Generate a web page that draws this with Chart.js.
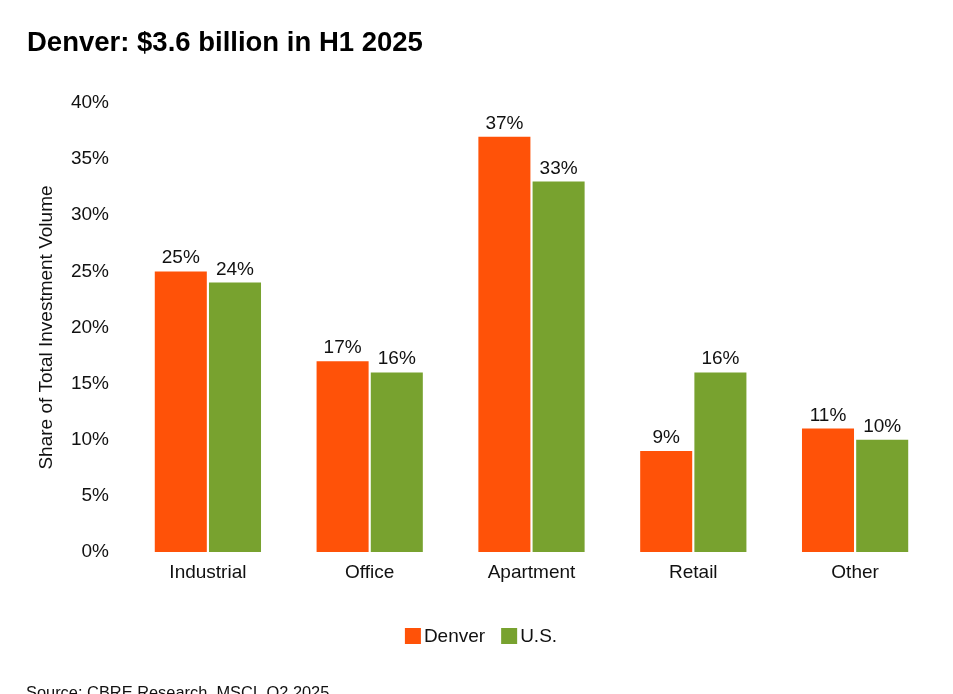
<!DOCTYPE html>
<html>
<head>
<meta charset="utf-8">
<script src="https://cdn.jsdelivr.net/npm/chart.js@4/dist/chart.umd.min.js"></script>
<style>
  html, body { margin: 0; padding: 0; background: #ffffff; }
  #wrap { position: relative; width: 953px; height: 694px; overflow: hidden; }
</style>
</head>
<body>
<div id="wrap"><canvas id="c" width="953" height="694"></canvas></div>
<script>
const categories = ["Industrial", "Office", "Apartment", "Retail", "Other"];
const denverValues = [25, 17, 37, 9, 11];
const usValues = [24, 16, 33, 16, 10];
const seriesNames = ["Denver", "U.S."];
const yTicks = [0, 5, 10, 15, 20, 25, 30, 35, 40];
const titleText = "Denver: $3.6 billion in H1 2025";
const yAxisTitle = "Share of Total Investment Volume";
const sourceText = "Source: CBRE Research, MSCI, Q2 2025";

const ORANGE = "#FF5208";
const GREEN = "#78A22F";
const FONT = "'Liberation Sans', Arial, Helvetica, sans-serif";
const TEXT = "#111111";
const FS = 19;

const extras = {
  id: "extras",
  afterDatasetsDraw(chart) {
    const ctx = chart.ctx;
    ctx.save();
    // data labels
    ctx.font = FS + "px " + FONT;
    ctx.fillStyle = TEXT;
    ctx.textAlign = "center";
    ctx.textBaseline = "alphabetic";
    chart.data.datasets.forEach((ds, di) => {
      const meta = chart.getDatasetMeta(di);
      meta.data.forEach((bar, i) => {
        ctx.fillText(ds.data[i] + "%", bar.x, bar.y - 8);
      });
    });
    // title
    ctx.font = "bold 27.5px " + FONT;
    ctx.textAlign = "left";
    ctx.fillStyle = "#000";
    ctx.fillText(titleText, 27, 51);
    // legend
    ctx.font = FS + "px " + FONT;
    const box = 16, gap = 3, spacing = 16;
    const items = chart.data.datasets.map(ds => ({ label: ds.label, color: ds.backgroundColor, w: ctx.measureText(ds.label).width }));
    let total = 0;
    items.forEach((it, k) => { total += box + gap + it.w + (k < items.length - 1 ? spacing : 0); });
    let x = 481 - total / 2;
    const ly = 636;
    items.forEach(it => {
      ctx.fillStyle = it.color;
      ctx.fillRect(x, ly - box / 2, box, box);
      ctx.fillStyle = TEXT;
      ctx.textBaseline = "middle";
      ctx.fillText(it.label, x + box + gap, ly + 1);
      x += box + gap + it.w + spacing;
    });
    // source
    ctx.font = "16.4px " + FONT;
    ctx.textBaseline = "alphabetic";
    ctx.fillStyle = TEXT;
    ctx.fillText(sourceText, 26, 698);
    ctx.restore();
  }
};

new Chart(document.getElementById("c"), {
  type: "bar",
  data: {
    labels: categories,
    datasets: [
      { label: seriesNames[0], data: denverValues, backgroundColor: ORANGE, barPercentage: 0.96, categoryPercentage: 0.67 },
      { label: seriesNames[1], data: usValues, backgroundColor: GREEN, barPercentage: 0.96, categoryPercentage: 0.67 }
    ]
  },
  options: {
    responsive: false,
    animation: false,
    devicePixelRatio: 1,
    layout: { padding: { top: 103, right: 17, left: 0, bottom: 0 } },
    plugins: {
      legend: { display: false },
      title: { display: false },
      tooltip: { enabled: false }
    },
    scales: {
      x: {
        grid: { display: false, drawTicks: false },
        border: { display: false },
        ticks: { color: TEXT, font: { family: FONT, size: FS }, padding: 9 },
        afterFit(scale) { scale.height = 142; }
      },
      y: {
        min: 0,
        max: 40,
        afterBuildTicks(scale) { scale.ticks = yTicks.map(v => ({ value: v })); },
        grid: { display: false, drawTicks: false },
        border: { display: false },
        ticks: { color: TEXT, font: { family: FONT, size: FS }, padding: 18, callback: v => v + "%" },
        title: { display: true, text: yAxisTitle, color: TEXT, font: { family: FONT, size: FS }, padding: { top: 35, bottom: 0 } },
        afterFit(scale) { scale.width = 127; }
      }
    }
  },
  plugins: [extras]
});
</script>
</body>
</html>
